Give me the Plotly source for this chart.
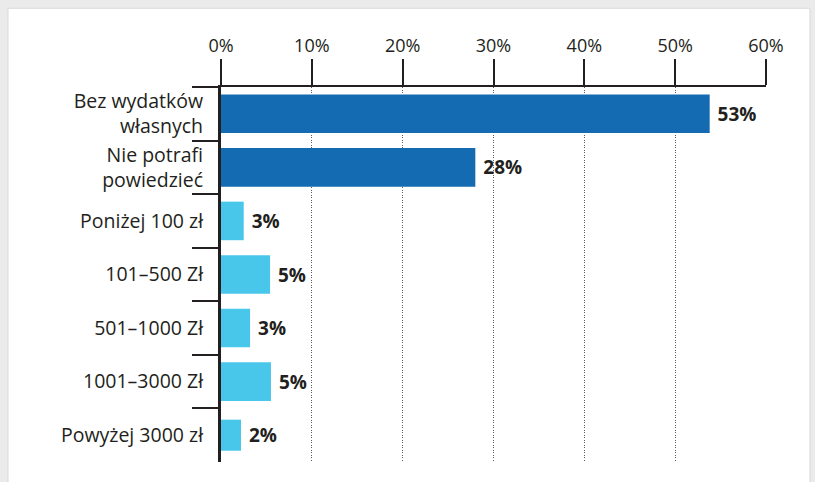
import plotly.graph_objects as go

categories = ["Bez wydatków<br>własnych", "Nie potrafi<br>powiedzieć", "Poniżej 100 zł",
              "101–500 Zł", "501–1000 Zł", "1001–3000 Zł", "Powyżej 3000 zł"]
values = [53.8, 28.0, 2.5, 5.4, 3.2, 5.5, 2.2]
value_labels = ["53%", "28%", "3%", "5%", "3%", "5%", "2%"]
tick_values = [0, 10, 20, 30, 40, 50, 60]
tick_labels = ["0%", "10%", "20%", "30%", "40%", "50%", "60%"]

DARK = "#156bb1"
LIGHT = "#48c7eb"
bar_colors = [DARK, DARK, LIGHT, LIGHT, LIGHT, LIGHT, LIGHT]
bar_widths = [0.72, 0.72, 0.72, 0.72, 0.72, 0.72, 0.58]
TXT = "#231f20"
FONT = "Open Sans"

fig = go.Figure(go.Bar(
    x=values, y=categories, orientation="h",
    marker=dict(color=bar_colors, line=dict(width=0)),
    width=bar_widths,
    text=value_labels, texttemplate=" %{text}", textposition="outside", cliponaxis=False,
    textfont=dict(family=FONT, size=19, color=TXT, weight="bold"),
    hoverinfo="skip",
))

fig.update_layout(
    width=815, height=482,
    margin=dict(l=221, r=49, t=87, b=20),
    paper_bgcolor="#ebebeb", plot_bgcolor="white",
    showlegend=False, bargap=0.28,
    font=dict(family=FONT, color=TXT),
    shapes=[dict(type="rect", xref="paper", yref="paper",
                 x0=-0.3908, x1=1.0807, y0=-0.1, y1=1.21,
                 fillcolor="white", line=dict(color="#d9d9d9", width=1), layer="below")],
)
fig.update_xaxes(
    side="top", range=[0, 60], tickvals=tick_values, ticktext=tick_labels,
    ticks="outside", ticklen=26, tickwidth=2, tickcolor=TXT,
    showline=True, linewidth=2, linecolor=TXT, automargin=False,
    showgrid=True, gridcolor="#5a5a5a", griddash="1px,1.5px", gridwidth=1,
    zeroline=False, tickfont=dict(family=FONT, size=18, color=TXT),
)
fig.update_yaxes(
    autorange="reversed", tickson="boundaries", automargin=False,
    ticks="outside", ticklen=26, tickwidth=2, tickcolor=TXT,
    showline=True, linewidth=3, linecolor=TXT,
    tickfont=dict(family=FONT, size=19.5, color=TXT),
    ticklabelstandoff=11,
)

fig.write_html(
    "out.html",
    config={"displayModeBar": False},
    post_script="document.body.style.margin='0';document.body.style.background='#ebebeb';",
)
